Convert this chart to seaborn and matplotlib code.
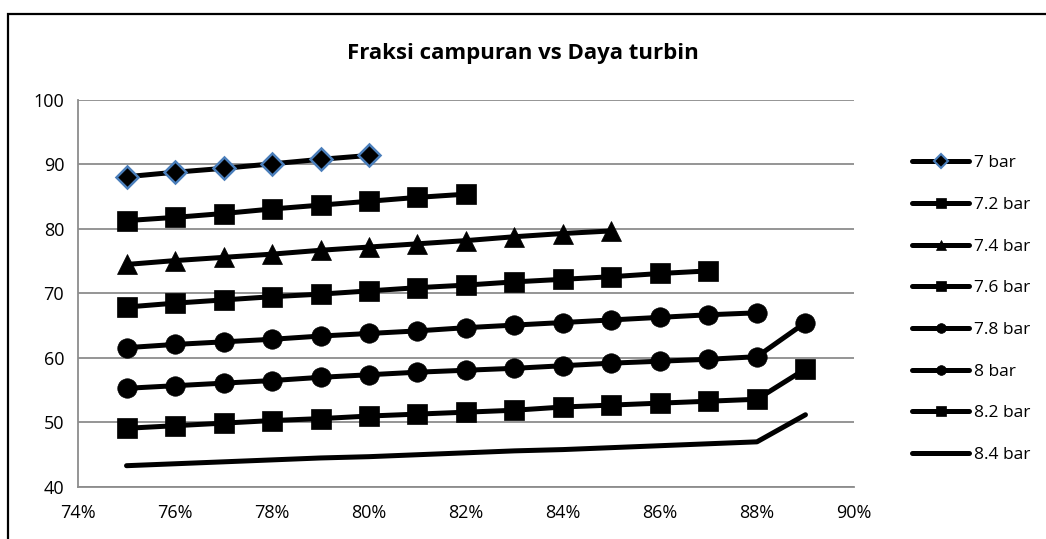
import matplotlib
matplotlib.use("Agg")
import matplotlib.pyplot as plt
from matplotlib.lines import Line2D
from matplotlib.patches import Rectangle
from matplotlib.ticker import FuncFormatter
import seaborn as sns
import pandas as pd

# data
fraksi = [0.75, 0.76, 0.77, 0.78, 0.79, 0.80, 0.81, 0.82,
          0.83, 0.84, 0.85, 0.86, 0.87, 0.88, 0.89]
labels = ["7 bar", "7.2 bar", "7.4 bar", "7.6 bar", "7.8 bar", "8 bar", "8.2 bar", "8.4 bar"]

daya_70 = [88.1, 88.8, 89.4, 90.1, 90.8, 91.4]
daya_72 = [81.3, 81.8, 82.4, 83.1, 83.7, 84.3, 84.9, 85.4]
daya_74 = [74.5, 75.1, 75.6, 76.1, 76.7, 77.2, 77.7, 78.2, 78.8, 79.3, 79.7]
daya_76 = [67.9, 68.5, 69.0, 69.5, 69.9, 70.4, 70.9, 71.3, 71.8, 72.2, 72.6, 73.1, 73.5]
daya_78 = [61.6, 62.1, 62.5, 62.9, 63.4, 63.8, 64.2, 64.7, 65.1, 65.5, 65.9, 66.3, 66.7, 67.0]
daya_80 = [55.3, 55.7, 56.1, 56.5, 57.0, 57.4, 57.8, 58.1, 58.4, 58.8, 59.2, 59.5, 59.8, 60.2, 65.5]
daya_82 = [49.1, 49.5, 49.9, 50.3, 50.6, 51.0, 51.3, 51.6, 51.9, 52.4, 52.7, 53.0, 53.3, 53.6, 58.3]
daya_84 = [43.3, 43.6, 43.9, 44.2, 44.5, 44.7, 45.0, 45.3, 45.6, 45.8, 46.1, 46.4, 46.7, 47.0, 51.2]

series = [daya_70, daya_72, daya_74, daya_76, daya_78, daya_80, daya_82, daya_84]

rows = []
for lab, vals in zip(labels, series):
    for x, y in zip(fraksi, vals):
        rows.append({"fraksi": x, "daya": y, "tekanan": lab})
df = pd.DataFrame(rows)

sns.set_style("white")
plt.rcParams['font.family'] = ['Open Sans', 'DejaVu Sans']
plt.rcParams['text.color'] = 'black'

markers = {"7 bar": "D", "7.2 bar": "s", "7.4 bar": "^", "7.6 bar": "s",
           "7.8 bar": "o", "8 bar": "o", "8.2 bar": "s", "8.4 bar": ""}
msize = {"D": 11.5, "s": 14, "^": 15, "o": 14, "": 0}

fig = plt.figure(figsize=(10.46, 5.39), dpi=100)
ax = fig.add_axes([0.0746, 0.0965, 0.7418, 0.718])

for lab in labels:
    m = markers[lab]
    sub = df[df["tekanan"] == lab]
    sns.lineplot(data=sub, x="fraksi", y="daya", ax=ax, color="black",
                 linewidth=3.6, marker=m if m else None,
                 markersize=msize[m],
                 markeredgecolor="#4a7ebb" if m == "D" else "black",
                 markeredgewidth=1.8 if m == "D" else 0.5,
                 legend=False, sort=False)

ax.set_xlim(0.74, 0.90)
ax.set_ylim(40, 100)
ax.set_xticks([0.74, 0.76, 0.78, 0.80, 0.82, 0.84, 0.86, 0.88, 0.90])
ax.set_yticks(range(40, 101, 10))
ax.xaxis.set_major_formatter(FuncFormatter(lambda v, p: f"{v*100:.0f}%"))
ax.set_xlabel("")
ax.set_ylabel("")
ax.yaxis.grid(True, color="#8c8c8c", linewidth=1.3)
ax.xaxis.grid(False)
ax.set_axisbelow(True)
for s in ["top", "right"]:
    ax.spines[s].set_visible(False)
for s in ["left", "bottom"]:
    ax.spines[s].set_color("#8c8c8c")
    ax.spines[s].set_linewidth(1.3)
ax.tick_params(axis="both", which="both", direction="out", length=6, width=1.3,
               color="#8c8c8c", labelsize=13, labelcolor="black", pad=4)
ax.tick_params(axis="x", pad=6)

fig.text(0.5, 0.901, "Fraksi campuran vs Daya turbin", ha="center", va="center",
         fontsize=16, fontweight="bold", color="black")

# legend with smaller markers like in the original
handles = []
for lab in labels:
    m = markers[lab]
    handles.append(Line2D([], [], color="black", linewidth=3.6,
                          marker=m if m else None,
                          markersize=7 if m else 0,
                          markerfacecolor="black",
                          markeredgecolor="#4a7ebb" if m == "D" else "black",
                          markeredgewidth=1.5 if m == "D" else 0.5))
leg = fig.legend(handles, labels, loc="upper left", bbox_to_anchor=(0.872, 0.712),
                 frameon=False, fontsize=12.5, handlelength=3.3, handletextpad=0.25,
                 labelspacing=1.47, borderpad=0, borderaxespad=0)
for t in leg.get_texts():
    t.set_color("black")

# chart frame
fig.patches.append(Rectangle((0.0076, -0.2), 1.1, 1.174, transform=fig.transFigure,
                             fill=False, edgecolor="black", linewidth=1.6,
                             clip_on=False))

fig.savefig("out.png", dpi=100)
